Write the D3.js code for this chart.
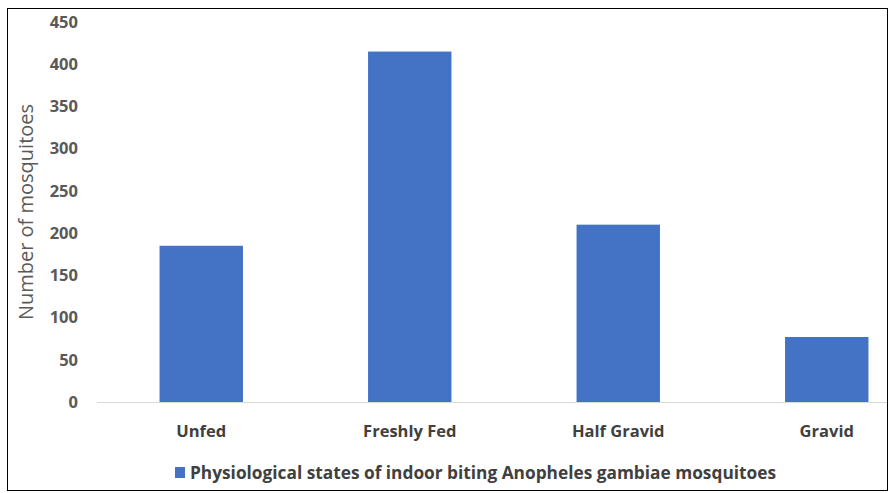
<!DOCTYPE html>
<html>
<head>
<script src="https://cdn.jsdelivr.net/npm/d3@7"></script>
<style>
  body { margin: 0; background: #fff; }
  svg { font-family: "Open Sans", "Liberation Sans", sans-serif; }
  .tick text { fill: #595959; font-family: "Open Sans", sans-serif; font-weight: bold; font-size: 16.5px; }
  .cat { fill: #404040; font-weight: bold; font-size: 16.5px; text-anchor: middle; }
  .legend { fill: #404040; font-weight: bold; font-size: 17px; }
  .ytitle { fill: #595959; font-size: 20px; text-anchor: middle; }
</style>
</head>
<body>
<svg id="chart"></svg>
<script>
var categories = ["Unfed", "Freshly Fed", "Half Gravid", "Gravid"];
var counts = [185, 415, 210, 77];
var yTicks = [0, 50, 100, 150, 200, 250, 300, 350, 400, 450];
var seriesName = "Physiological states of indoor biting Anopheles gambiae mosquitoes";

var W = 891, H = 493;
var svg = d3.select("#chart").attr("width", W).attr("height", H);

// frame
svg.append("rect")
    .attr("x", 7.5).attr("y", 8.5)
    .attr("width", 880).attr("height", 482)
    .attr("fill", "none").attr("stroke", "#000").attr("stroke-width", 1);

var x = d3.scaleBand()
    .domain(categories)
    .range([97, 931])
    .paddingInner(0.6)
    .paddingOuter(0.3);

var y = d3.scaleLinear()
    .domain([0, 450])
    .range([402, 22]);

svg.selectAll(".bar")
    .data(counts)
    .enter().append("rect")
    .attr("class", "bar")
    .attr("x", function (d, i) { return x(categories[i]); })
    .attr("y", function (d) { return y(d); })
    .attr("width", x.bandwidth())
    .attr("height", function (d) { return y(0) - y(d); })
    .attr("fill", "#4472c4");

// baseline
svg.append("line")
    .attr("x1", 97).attr("x2", 887)
    .attr("y1", y(0) + 0.5).attr("y2", y(0) + 0.5)
    .attr("stroke", "#d9d9d9");

var yAxis = d3.axisLeft(y).tickValues(yTicks).tickSize(0).tickPadding(0);
var gy = svg.append("g")
    .attr("transform", "translate(78,0)")
    .call(yAxis);
gy.select(".domain").remove();

svg.selectAll(".cat")
    .data(categories)
    .enter().append("text")
    .attr("class", "cat")
    .attr("x", function (d) { return x(d) + x.bandwidth() / 2; })
    .attr("y", 437)
    .text(function (d) { return d; });

svg.append("text")
    .attr("class", "ytitle")
    .attr("transform", "translate(33,212) rotate(-90)")
    .text("Number of mosquitoes");

var lg = svg.append("g").attr("transform", "translate(175,479)");
lg.append("rect")
    .attr("x", 0).attr("y", -12)
    .attr("width", 10).attr("height", 11)
    .attr("fill", "#4472c4");
lg.append("text")
    .attr("class", "legend")
    .attr("x", 15).attr("y", 0)
    .attr("textLength", 586)
    .attr("lengthAdjust", "spacingAndGlyphs")
    .text(seriesName);
</script>
</body>
</html>
